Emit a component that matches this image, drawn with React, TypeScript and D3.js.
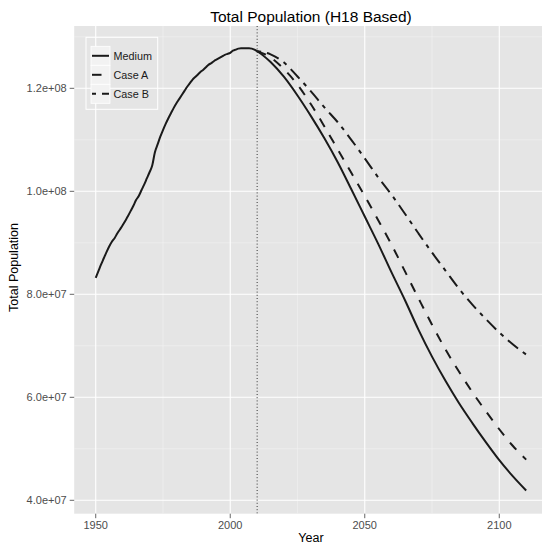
import React from 'react';
import * as d3 from 'd3';

// historical (annual) total population, millions
const histYears = [
  1950, 1951, 1952, 1953, 1954, 1955, 1956, 1957, 1958, 1959,
  1960, 1961, 1962, 1963, 1964, 1965, 1966, 1967, 1968, 1969,
  1970, 1971, 1972, 1973, 1974, 1975, 1976, 1977, 1978, 1979,
  1980, 1981, 1982, 1983, 1984, 1985, 1986, 1987, 1988, 1989,
  1990, 1991, 1992, 1993, 1994, 1995, 1996, 1997, 1998, 1999,
  2000, 2001, 2002, 2003, 2004, 2005, 2006, 2007, 2008, 2009,
];
const histPop = [
  83.2, 84.5, 85.8, 87.0, 88.2, 89.3, 90.2, 90.9, 91.8, 92.6,
  93.4, 94.3, 95.2, 96.2, 97.2, 98.3, 99.1, 100.2, 101.3, 102.5,
  103.7, 105.0, 107.6, 109.1, 110.6, 111.9, 113.1, 114.2, 115.2, 116.2,
  117.1, 117.9, 118.7, 119.5, 120.3, 121.0, 121.7, 122.2, 122.7, 123.2,
  123.6, 124.1, 124.6, 124.9, 125.3, 125.6, 125.9, 126.2, 126.5, 126.7,
  126.9, 127.3, 127.5, 127.7, 127.8, 127.8, 127.8, 127.8, 127.7, 127.5,
];

// projections, every 5 years, millions
const projYears = [
  2010, 2015, 2020, 2025, 2030, 2035, 2040, 2045, 2050, 2055, 2060,
  2065, 2070, 2075, 2080, 2085, 2090, 2095, 2100, 2105, 2110,
];
const mediumProj = [
  127.2, 125.1, 122.2, 118.6, 114.6, 110.3, 105.6, 100.4, 95.1, 89.8, 84.2,
  78.8, 73.1, 67.9, 63.2, 58.9, 55.0, 51.3, 47.8, 44.7, 41.9,
];
const caseAProj = [
  127.2, 126.0, 123.7, 120.7, 116.9, 112.6, 108.1, 103.6, 99.1, 94.4, 89.6,
  84.4, 79.2, 74.1, 69.3, 65.0, 61.0, 57.3, 53.8, 50.6, 47.9,
];
const caseBProj = [
  127.2, 126.6, 125.0, 122.3, 119.4, 116.3, 113.4, 110.0, 106.4, 102.7, 99.3,
  95.6, 91.8, 88.1, 84.6, 81.1, 78.0, 75.2, 72.6, 70.3, 68.3,
];

const seriesNames = ['Medium', 'Case A', 'Case B'];
const seriesDash = ['none', '9.5,9.3', '4,6,13,6'];

const xMajor = [1950, 2000, 2050, 2100];
const xMinor = [1975, 2025, 2075];
const yMajor = [4e7, 6e7, 8e7, 1e8, 1.2e8];
const yMinor = [5e7, 7e7, 9e7, 1.1e8, 1.3e8];
const markYear = 2010;

const W = 542;
const H = 546;
const panel = { left: 74.2, right: 547.7, top: 26, bottom: 513.7 };
const font = '"Liberation Sans", Arial, Helvetica, sans-serif';

const fmtSci = (v: number) => {
  const [m, e] = d3.format('.1e')(v).split('e');
  return `${m}e${e[0]}${e.slice(1).padStart(2, '0')}`;
};

export default function App() {
  const x = d3.scaleLinear().domain([1942, 2118]).range([panel.left, panel.right]);
  const y = d3.scaleLinear().domain([3.74e7, 1.321e8]).range([panel.bottom, panel.top]);

  const medium = histYears.map((yr, i) => [yr, histPop[i]] as [number, number])
    .concat(projYears.map((yr, i) => [yr, mediumProj[i]] as [number, number]));
  const caseA = projYears.map((yr, i) => [yr, caseAProj[i]] as [number, number]);
  const caseB = projYears.map((yr, i) => [yr, caseBProj[i]] as [number, number]);
  const allSeries = [medium, caseA, caseB];

  const line = d3.line<[number, number]>()
    .x(d => x(d[0]))
    .y(d => y(d[1] * 1e6))
    .curve(d3.curveMonotoneX);

  const legendX = 86;
  const legendY = 37.3;
  const keyH = 19;

  return (
    <svg width={W} height={H} style={{ position: 'absolute', left: 0, top: 0, background: '#fff' }}
      fontFamily={font}>
      <defs>
        <clipPath id="panel-clip">
          <rect x={panel.left} y={panel.top} width={panel.right - panel.left} height={panel.bottom - panel.top} />
        </clipPath>
      </defs>
      <rect x={panel.left} y={panel.top} width={panel.right - panel.left} height={panel.bottom - panel.top} fill="#E5E5E5" />
      {xMinor.map(v => (
        <line key={'xm' + v} x1={x(v)} x2={x(v)} y1={panel.top} y2={panel.bottom} stroke="#F2F2F2" strokeWidth={0.6} />
      ))}
      {yMinor.map(v => (
        <line key={'ym' + v} x1={panel.left} x2={panel.right} y1={y(v)} y2={y(v)} stroke="#F2F2F2" strokeWidth={0.6} />
      ))}
      {xMajor.map(v => (
        <line key={'xM' + v} x1={x(v)} x2={x(v)} y1={panel.top} y2={panel.bottom} stroke="#fff" strokeWidth={1.1} />
      ))}
      {yMajor.map(v => (
        <line key={'yM' + v} x1={panel.left} x2={panel.right} y1={y(v)} y2={y(v)} stroke="#fff" strokeWidth={1.1} />
      ))}

      <g clipPath="url(#panel-clip)">
        {allSeries.map((s, i) => (
          <path key={seriesNames[i]} d={line(s) || ''} fill="none" stroke="#1a1a1a" strokeWidth={2}
            strokeDasharray={seriesDash[i]} strokeLinejoin="round" />
        ))}
        <line x1={x(markYear)} x2={x(markYear)} y1={panel.top} y2={panel.bottom}
          stroke="#333" strokeWidth={1} strokeDasharray="1,2.2" />
      </g>

      {/* legend */}
      <rect x={legendX} y={legendY} width={71.7} height={72} fill="none" stroke="#fff" strokeWidth={1} />
      {seriesNames.map((name, i) => {
        const ky = legendY + 9 + i * keyH;
        return (
          <g key={'lg' + name}>
            <rect x={91} y={ky} width={19} height={keyH} fill="#F2F2F2" stroke="#fff" strokeWidth={0.8} />
            <line x1={92} x2={109} y1={ky + keyH / 2} y2={ky + keyH / 2} stroke="#1a1a1a" strokeWidth={2}
              strokeDasharray={seriesDash[i]} />
            <text x={113.5} y={ky + keyH / 2 + 3.8} fontSize={10.8} fill="#1a1a1a">{name}</text>
          </g>
        );
      })}

      {/* axes */}
      {xMajor.map(v => (
        <g key={'xt' + v}>
          <line x1={x(v)} x2={x(v)} y1={panel.bottom} y2={panel.bottom + 4.5} stroke="#666" strokeWidth={1} />
          <text x={x(v)} y={panel.bottom + 15.5} textAnchor="middle" fontSize={11} fill="#4D4D4D">{v}</text>
        </g>
      ))}
      {yMajor.map(v => (
        <g key={'yt' + v}>
          <line x1={panel.left - 4.5} x2={panel.left} y1={y(v)} y2={y(v)} stroke="#666" strokeWidth={1} />
          <text x={panel.left - 7.5} y={y(v) + 4} textAnchor="end" fontSize={11} fill="#4D4D4D">{fmtSci(v)}</text>
        </g>
      ))}

      <text x={(panel.left + panel.right) / 2} y={21.7} textAnchor="middle" fontSize={15.5} fill="#000">
        Total Population (H18 Based)
      </text>
      <text x={(panel.left + panel.right) / 2} y={542} textAnchor="middle" fontSize={12.5} fill="#000">Year</text>
      <text transform={`translate(17.5,267.5) rotate(-90)`} textAnchor="middle"
        fontSize={12.5} fill="#000">Total Population</text>
    </svg>
  );
}
